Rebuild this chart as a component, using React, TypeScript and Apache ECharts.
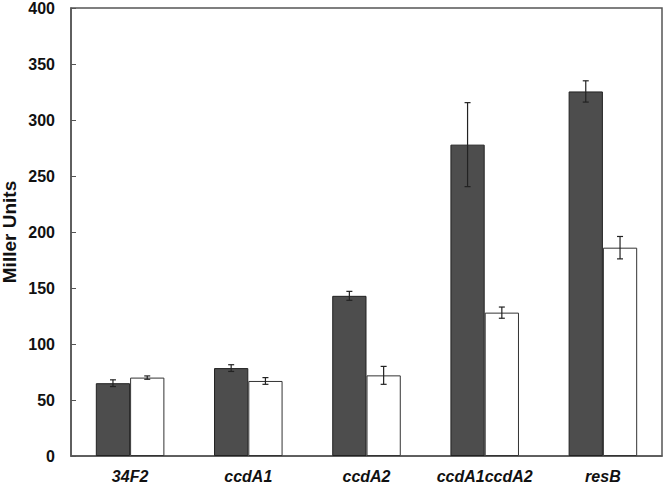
import React, { useEffect, useRef } from "react";
import * as echarts from "echarts";

const categories = ["34F2", "ccdA1", "ccdA2", "ccdA1ccdA2", "resB"];
const darkValues = [65, 78.5, 143, 278, 325.5];
const darkErrors = [3, 3, 4, 37.5, 9.5];
const whiteValues = [70, 67, 72, 128, 186];
const whiteErrors = [1.5, 3, 8, 5, 10];
const yTicks = { min: 0, max: 400, interval: 50 };

const BAR_FRAC = 0.29;

function errorSeries(values: number[], errors: number[], side: number) {
  return {
    type: "custom",
    z: 10,
    data: values.map((v, i) => [i, v, errors[i]]),
    renderItem: (params: any, api: any) => {
      const idx = api.value(0);
      const v = api.value(1);
      const e = api.value(2);
      const band = api.size([1, 0])[0];
      const off = (band * BAR_FRAC) / 2 * side;
      const top = api.coord([idx, v + e]);
      const bot = api.coord([idx, v - e]);
      const x = top[0] + off;
      const cap = 3;
      const style = { stroke: "#222", lineWidth: 1.2 };
      return {
        type: "group",
        children: [
          { type: "line", shape: { x1: x, y1: top[1], x2: x, y2: bot[1] }, style },
          { type: "line", shape: { x1: x - cap, y1: top[1], x2: x + cap, y2: top[1] }, style },
          { type: "line", shape: { x1: x - cap, y1: bot[1], x2: x + cap, y2: bot[1] }, style },
        ],
      };
    },
  };
}

export default function App() {
  const ref = useRef<HTMLDivElement>(null);
  useEffect(() => {
    if (!ref.current) return;
    const chart = echarts.init(ref.current, undefined, { renderer: "svg" });
    chart.setOption({
      animation: false,
      backgroundColor: "#fff",
      grid: {
        left: 71,
        right: 4,
        top: 8,
        bottom: 28,
        containLabel: false,
        outerBoundsMode: "none",
        show: true,
        borderColor: "#555",
        borderWidth: 1.5,
      },
      xAxis: {
        type: "category",
        data: categories,
        axisTick: { show: false },
        axisLine: { lineStyle: { color: "#555", width: 1.5 } },
        axisLabel: {
          interval: 0,
          hideOverlap: false,
          fontFamily: "Liberation Sans, Arial, sans-serif",
          fontWeight: "bold",
          fontStyle: "italic",
          fontSize: 16,
          color: "#111",
          margin: 12,
        },
      },
      yAxis: {
        type: "value",
        min: yTicks.min,
        max: yTicks.max,
        interval: yTicks.interval,
        name: "Miller Units",
        nameLocation: "middle",
        nameGap: 52,
        nameMoveOverlap: false,
        nameTextStyle: {
          fontFamily: "Liberation Sans, Arial, sans-serif",
          fontWeight: "bold",
          fontSize: 19,
          color: "#111",
        },
        splitLine: { show: false },
        axisLine: { show: true, lineStyle: { color: "#555", width: 1.5 } },
        axisTick: { show: true, inside: true, length: 5, lineStyle: { color: "#555" } },
        axisLabel: {
          fontFamily: "Liberation Sans, Arial, sans-serif",
          fontWeight: "bold",
          fontSize: 16,
          color: "#111",
          margin: 16,
        },
      },
      series: [
        {
          type: "bar",
          data: darkValues,
          barWidth: BAR_FRAC * 100 + "%",
          barGap: "0%",
          itemStyle: { color: "#4d4d4d", borderColor: "#222", borderWidth: 1 },
        },
        {
          type: "bar",
          data: whiteValues,
          barWidth: BAR_FRAC * 100 + "%",
          barGap: "0%",
          itemStyle: { color: "#ffffff", borderColor: "#333", borderWidth: 1 },
        },
        errorSeries(darkValues, darkErrors, -1),
        errorSeries(whiteValues, whiteErrors, 1),
      ],
    });
    return () => chart.dispose();
  }, []);
  return <div ref={ref} style={{ width: 666, height: 484, position: "absolute", left: 0, top: 0 }} />;
}
